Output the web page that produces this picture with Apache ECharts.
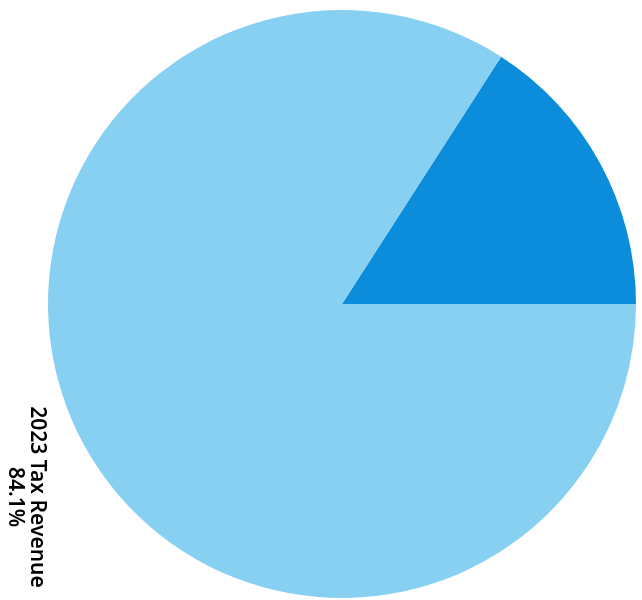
<!DOCTYPE html>
<html>
<head>
    <meta charset="utf-8">
    <title>2023 Tax Revenue</title>
    <style>
        *{ margin: 0; padding: 0; }
        body{ background: #fff; }
        #main{ width: 642px; height: 600px; }
    </style>
    <script src="https://cdn.jsdelivr.net/npm/echarts@6/dist/echarts.min.js"></script>
</head>
<body>
    <div id="main"></div>
    <script type="text/javascript">
        // data
        var names = ['Other', '2023 Tax Revenue'];
        var values = [15.9, 84.1];
        var colors = ['#0b8ddb', '#88d0f1'];

        var chart = echarts.init(document.getElementById('main'));

        var option = {
            animation: false,
            series: [{
                type: 'pie',
                center: [342, 304],
                radius: [0, 294],
                startAngle: 0,
                clockwise: false,
                percentPrecision: 1,
                labelLine: { show: false },
                data: names.map(function (n, i) {
                    return {
                        name: n,
                        value: values[i],
                        itemStyle: { color: colors[i] },
                        label: { show: i === 1 }
                    };
                }),
                label: {
                    formatter: '{b}\n{d}%',
                    rotate: -90,
                    fontFamily: 'Noto Sans',
                    fontWeight: 600,
                    fontSize: 21,
                    lineHeight: 22,
                    color: '#000'
                },
                labelLayout: function () {
                    return { x: 26, y: 497, align: 'center', verticalAlign: 'middle' };
                }
            }]
        };
        chart.setOption(option);
    </script>
</body>
</html>
